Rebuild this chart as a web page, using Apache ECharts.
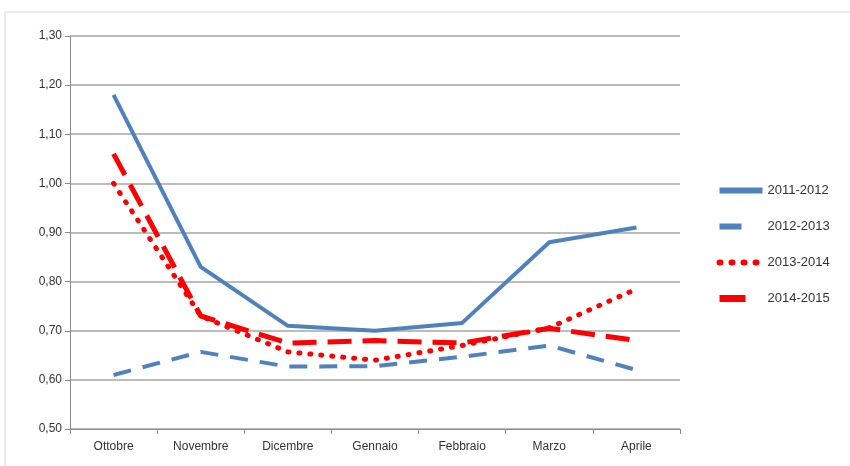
<!DOCTYPE html>
<html>
<head>
<meta charset="utf-8">
<script src="https://cdn.jsdelivr.net/npm/echarts@6/dist/echarts.min.js"></script>
<style>
  html, body { margin: 0; padding: 0; background: #fff; }
  #chart { width: 850px; height: 466px; }
</style>
</head>
<body>
<div id="chart"></div>
<script>
// mesi
const months = ["Ottobre", "Novembre", "Dicembre", "Gennaio", "Febbraio", "Marzo", "Aprile"];
// serie
const s2011 = [1.18, 0.83, 0.71, 0.70, 0.716, 0.88, 0.91];
const s2012 = [0.61, 0.657, 0.627, 0.628, 0.647, 0.67, 0.62];
const s2013 = [1.00, 0.73, 0.657, 0.64, 0.67, 0.706, 0.785];
const s2014 = [1.06, 0.73, 0.675, 0.68, 0.675, 0.705, 0.68];

const BLUE = "#4f81bd";
const RED = "#ff0000";

const chart = echarts.init(document.getElementById("chart"));
chart.setOption({
  animation: false,
  backgroundColor: "#fff",
  graphic: [
    {
      type: "rect",
      shape: { x: 5, y: 12, width: 860, height: 470 },
      style: { fill: "none", stroke: "#d9d9d9", lineWidth: 1 },
    },
  ],
  grid: { left: 70, right: 170, top: 36, bottom: 37 },
  legend: {
    orient: "vertical",
    left: 711,
    top: 179,
    itemWidth: 43,
    itemHeight: 14,
    itemGap: 23,
    itemStyle: { opacity: 0 },
    textStyle: { color: "#333", fontSize: 13, fontFamily: "Liberation Sans" },
    data: [
      { name: "2011-2012", lineStyle: { width: 6 } },
      { name: "2012-2013", lineStyle: { width: 6, type: [22, 30] } },
      { name: "2013-2014", lineStyle: { width: 6, type: [1, 11], cap: "round" } },
      { name: "2014-2015", lineStyle: { width: 7, type: [26, 30] } },
    ],
  },
  xAxis: {
    type: "category",
    data: months,
    boundaryGap: true,
    axisLine: { lineStyle: { color: "#8c8c8c", width: 1 } },
    axisTick: { show: true, length: 5, lineStyle: { color: "#8c8c8c" } },
    axisLabel: { color: "#333", fontSize: 12, fontFamily: "Liberation Sans", margin: 12 },
  },
  yAxis: {
    type: "value",
    min: 0.5,
    max: 1.3,
    interval: 0.1,
    axisLine: { show: true, lineStyle: { color: "#8c8c8c", width: 1 } },
    axisTick: { show: true, length: 5, lineStyle: { color: "#8c8c8c" } },
    axisLabel: {
      color: "#333",
      fontSize: 12,
      fontFamily: "Liberation Sans",
      margin: 8,
      formatter: (v) => v.toFixed(2).replace(".", ","),
    },
    splitLine: { lineStyle: { color: "#a6a6a6", width: 1.5 } },
  },
  series: [
    {
      name: "2011-2012",
      type: "line",
      data: s2011,
      symbol: "none",
      color: BLUE,
      lineStyle: { color: BLUE, width: 4 },
    },
    {
      name: "2012-2013",
      type: "line",
      data: s2012,
      symbol: "none",
      color: BLUE,
      lineStyle: { color: BLUE, width: 4, type: [18, 12] },
    },
    {
      name: "2013-2014",
      type: "line",
      data: s2013,
      symbol: "none",
      color: RED,
      lineStyle: { color: RED, width: 5, type: [1, 10], cap: "round" },
    },
    {
      name: "2014-2015",
      type: "line",
      data: s2014,
      symbol: "none",
      color: RED,
      lineStyle: { color: RED, width: 5, type: [24, 11] },
    },
  ],
});
</script>
</body>
</html>
